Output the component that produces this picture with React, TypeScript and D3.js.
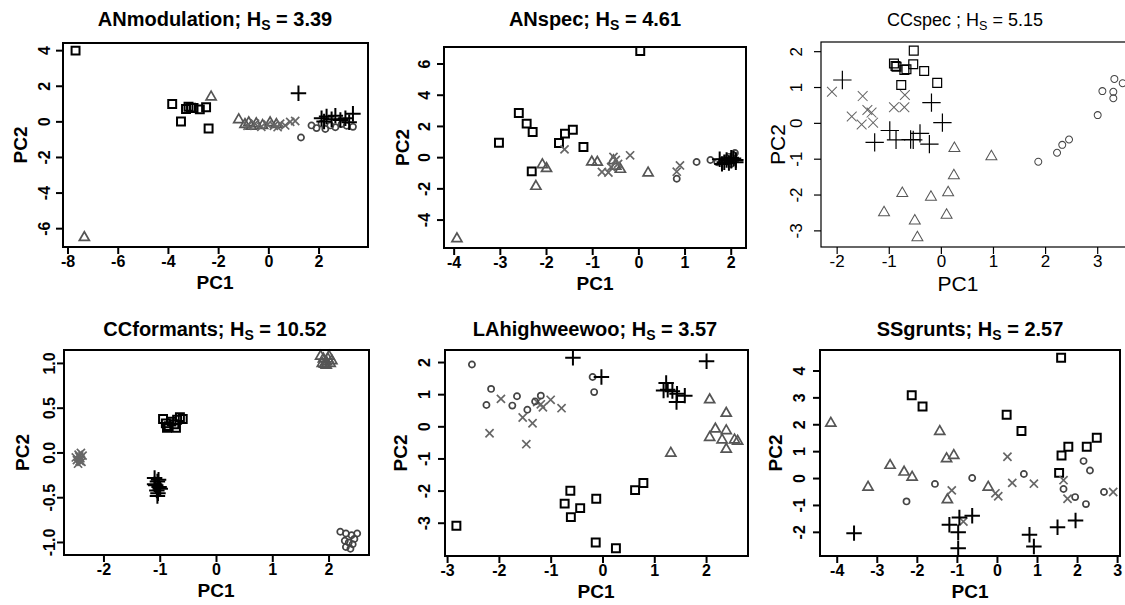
import React from "react";
import * as d3 from "d3";

type Pt = [number, number];

// --- ANmodulation ---
const anmodSquares: Pt[] = [[-7.7, 4.0], [-3.85, 1.0], [-3.5, 0.02], [-3.3, 0.72], [-3.2, 0.85], [-3.1, 0.8], [-3.0, 0.78], [-2.75, 0.7], [-2.5, 0.82], [-2.4, -0.37]];
const anmodTriangles: Pt[] = [[-7.35, -6.5], [-2.3, 1.4], [-1.2, 0.12], [-0.95, -0.15], [-0.7, -0.25], [-0.5, -0.1], [-0.25, -0.2], [0.05, -0.05], [0.3, -0.15], [-0.8, -0.05]];
const anmodTimes: Pt[] = [[-0.85, -0.22], [-0.55, -0.1], [-0.3, -0.28], [-0.05, -0.15], [0.2, -0.22], [0.45, -0.1], [0.65, -0.2], [0.85, 0.0], [1.05, 0.05], [0.35, -0.3]];
const anmodCircles: Pt[] = [[1.28, -0.88], [1.7, -0.2], [1.9, -0.35], [2.1, -0.1], [2.25, -0.4], [2.45, -0.2], [2.65, -0.3], [2.9, -0.12], [3.1, -0.22], [3.35, -0.28]];
const anmodPlus: Pt[] = [[1.18, 1.61], [2.1, 0.2], [2.3, 0.3], [2.5, 0.15], [2.65, 0.35], [2.85, 0.1], [3.05, 0.2], [3.35, 0.45], [2.2, 0.02], [3.2, -0.02]];

// --- ANspec ---
const anspecSquares: Pt[] = [[0.03, 6.83], [-2.6, 2.86], [-2.43, 2.18], [-2.3, 1.64], [-3.03, 0.96], [-2.32, -0.88], [-1.73, 0.94], [-1.6, 1.54], [-1.43, 1.79], [-1.2, 0.68]];
const anspecTriangles: Pt[] = [[-3.94, -5.2], [-2.09, -0.45], [-2.0, -0.7], [-2.23, -1.84], [-1.02, -0.28], [-0.9, -0.3], [-0.5, -0.55], [-0.4, -0.75], [0.2, -0.98], [-0.55, -0.2]];
const anspecTimes: Pt[] = [[-1.61, 0.53], [-0.8, -0.92], [-0.66, -0.95], [-0.55, 0.04], [-0.45, -0.4], [-0.19, 0.15], [0.89, -0.5], [0.82, -0.9], [-0.6, -0.6], [-0.5, -0.15]];
const anspecCircles: Pt[] = [[0.82, -1.35], [1.25, -0.28], [1.55, -0.15], [1.7, -0.3], [1.8, -0.2], [1.9, -0.05], [2.05, 0.15], [2.08, 0.3], [2.0, -0.4], [1.95, 0.05]];
const anspecPlus: Pt[] = [[1.75, -0.1], [1.85, -0.3], [1.9, -0.15], [1.95, -0.35], [2.0, -0.2], [2.05, -0.05], [2.1, -0.3], [1.8, -0.4], [2.0, 0.0], [2.1, -0.15]];

// --- CCspec ---
const ccspecSquares: Pt[] = [[-0.53, 2.03], [-0.91, 1.67], [-0.86, 1.58], [-0.71, 1.49], [-0.67, 1.51], [-0.54, 1.65], [-0.33, 1.46], [-0.77, 1.07], [-0.08, 1.13], [-0.88, 1.6]];
const ccspecPlus: Pt[] = [[-1.9, 1.21], [-0.19, 0.58], [0.02, 0.02], [-0.99, -0.2], [-0.87, -0.46], [-1.28, -0.53], [-0.59, -0.45], [-0.54, -0.46], [-0.41, -0.28], [-0.23, -0.58]];
const ccspecTimes: Pt[] = [[-2.1, 0.88], [-1.51, 0.76], [-1.72, 0.19], [-1.53, -0.03], [-1.42, 0.37], [-1.34, 0.3], [-1.31, 0.02], [-0.91, 0.45], [-0.71, 0.45], [-0.7, 0.79]];
const ccspecTriangles: Pt[] = [[0.25, -0.7], [0.96, -0.93], [0.24, -1.46], [0.13, -1.93], [-0.2, -2.06], [-0.75, -1.95], [-1.1, -2.49], [0.1, -2.56], [-0.51, -2.72], [-0.46, -3.19]];
const ccspecCircles: Pt[] = [[1.86, -1.07], [2.22, -0.82], [2.32, -0.6], [2.45, -0.45], [3.0, 0.23], [3.09, 0.9], [3.32, 1.24], [3.48, 1.12], [3.3, 0.88], [3.3, 0.7]];

// --- CCformants ---
const ccformTimes: Pt[] = [[-2.45, -0.02], [-2.42, -0.06], [-2.48, -0.08], [-2.4, -0.1], [-2.44, -0.04], [-2.5, -0.05], [-2.38, -0.03], [-2.46, -0.12], [-2.41, 0.0], [-2.43, -0.09]];
const ccformSquares: Pt[] = [[-0.95, 0.38], [-0.9, 0.33], [-0.85, 0.3], [-0.8, 0.35], [-0.75, 0.32], [-0.7, 0.37], [-0.65, 0.4], [-0.6, 0.38], [-0.88, 0.28], [-0.72, 0.28]];
const ccformPlus: Pt[] = [[-1.1, -0.28], [-1.05, -0.32], [-1.08, -0.36], [-1.02, -0.38], [-1.06, -0.42], [-1.0, -0.4], [-1.04, -0.45], [-1.1, -0.35], [-1.03, -0.3], [-1.05, -0.48]];
const ccformTriangles: Pt[] = [[1.85, 1.08], [1.9, 1.05], [1.95, 1.02], [2.0, 1.08], [1.92, 0.99], [2.02, 1.0], [1.88, 1.0], [1.98, 1.05], [2.05, 1.03], [1.95, 0.98]];
const ccformCircles: Pt[] = [[2.2, -0.88], [2.3, -0.9], [2.4, -0.92], [2.5, -0.9], [2.28, -0.98], [2.35, -1.0], [2.42, -1.02], [2.3, -1.05], [2.38, -1.07], [2.45, -0.96]];

// --- LAhighweewoo ---
const lahighSquares: Pt[] = [[-2.83, -3.08], [-0.63, -1.99], [-0.74, -2.39], [-0.62, -2.81], [-0.44, -2.53], [-0.13, -2.24], [-0.14, -3.6], [0.25, -3.78], [0.62, -1.97], [0.78, -1.75]];
const lahighPlus: Pt[] = [[-0.58, 2.15], [-0.03, 1.55], [2.0, 2.04], [1.22, 1.36], [1.17, 1.13], [1.34, 1.11], [1.43, 1.03], [1.58, 0.97], [1.42, 0.77], [1.25, 1.15]];
const lahighTimes: Pt[] = [[-2.19, -0.2], [-1.97, 0.87], [-1.55, 0.29], [-1.36, 0.11], [-1.48, -0.54], [-1.27, 0.77], [-1.16, 0.61], [-1.01, 0.84], [-0.8, 0.58], [-1.2, 0.7]];
const lahighCircles: Pt[] = [[-2.53, 1.94], [-2.16, 1.18], [-2.25, 0.68], [-1.66, 0.95], [-1.75, 0.66], [-1.46, 0.53], [-1.2, 0.97], [-0.2, 1.55], [-0.17, 1.08], [-1.31, 0.79]];
const lahighTriangles: Pt[] = [[2.06, 0.84], [2.38, 0.42], [2.06, -0.33], [2.17, -0.07], [2.38, -0.12], [2.3, -0.41], [2.38, -0.7], [2.54, -0.41], [2.6, -0.45], [1.31, -0.82]];

// --- SSgrunts ---
const ssgSquares: Pt[] = [[1.59, 4.49], [-2.14, 3.1], [-1.87, 2.68], [0.23, 2.37], [0.6, 1.77], [2.48, 1.52], [2.23, 1.18], [1.77, 1.18], [1.6, 0.86], [1.54, 0.21]];
const ssgTriangles: Pt[] = [[-4.16, 2.06], [-1.44, 1.75], [-2.68, 0.49], [-2.33, 0.24], [-2.13, 0.05], [-3.23, -0.32], [-1.27, 0.74], [-1.09, 0.86], [-1.25, -0.79], [-0.23, -0.32]];
const ssgTimes: Pt[] = [[0.25, 0.81], [-1.14, -0.44], [0.02, -0.66], [0.37, -0.16], [0.91, -0.19], [1.65, -0.06], [1.75, -0.75], [2.89, -0.5], [-0.85, -1.6], [-0.05, -0.55]];
const ssgCircles: Pt[] = [[-2.27, -0.85], [-1.56, -0.2], [-0.63, 0.02], [0.66, 0.17], [1.65, -0.39], [1.94, -0.69], [2.15, 0.65], [2.31, 0.3], [2.21, -0.95], [2.66, -0.5]];
const ssgPlus: Pt[] = [[-3.58, -2.03], [-1.2, -1.72], [-0.95, -1.45], [-0.63, -1.38], [-0.98, -2.0], [-0.98, -2.59], [0.8, -2.09], [0.91, -2.53], [1.5, -1.81], [1.95, -1.56]];

const panelNames = ["ANmodulation", "ANspec", "CCspec ", "CCformants", "LAhighweewoo", "SSgrunts"];
const hsValues = ["3.39", "4.61", "5.15", "10.52", "3.57", "2.57"];
const xTickValues = [
  [-8, -6, -4, -2, 0, 2],
  [-4, -3, -2, -1, 0, 1, 2],
  [-2, -1, 0, 1, 2, 3],
  [-2, -1, 0, 1, 2],
  [-3, -2, -1, 0, 1, 2],
  [-4, -3, -2, -1, 0, 1, 2, 3],
];
const yTickValues = [
  [-6, -4, -2, 0, 2, 4],
  [-4, -2, 0, 2, 4, 6],
  [-3, -2, -1, 0, 1, 2],
  [-1, -0.5, 0, 0.5, 1],
  [-3, -2, -1, 0, 1, 2],
  [-2, -1, 0, 1, 2, 3, 4],
];
const xLims: Pt[] = [[-8.2, 3.95], [-4.22, 2.32], [-2.31, 3.62], [-2.71, 2.71], [-3.05, 2.8], [-4.43, 3.06]];
const yLims: Pt[] = [[-7.03, 4.43], [-5.79, 7.09], [-3.45, 2.27], [-1.14, 1.15], [-4.02, 2.39], [-2.88, 4.78]];

const panelSeries = [
  { squares: anmodSquares, circles: anmodCircles, triangles: anmodTriangles, plus: anmodPlus, times: anmodTimes },
  { squares: anspecSquares, circles: anspecCircles, triangles: anspecTriangles, plus: anspecPlus, times: anspecTimes },
  { squares: ccspecSquares, circles: ccspecCircles, triangles: ccspecTriangles, plus: ccspecPlus, times: ccspecTimes },
  { squares: ccformSquares, circles: ccformCircles, triangles: ccformTriangles, plus: ccformPlus, times: ccformTimes },
  { squares: lahighSquares, circles: lahighCircles, triangles: lahighTriangles, plus: lahighPlus, times: lahighTimes },
  { squares: ssgSquares, circles: ssgCircles, triangles: ssgTriangles, plus: ssgPlus, times: ssgTimes },
];

// layout (pixels): [left, right, top, bottom]
const boxes = [
  [63, 368, 43, 247],
  [444, 746, 47, 248],
  [821, 1130, 42, 247],
  [64, 369, 350, 555],
  [445, 748, 350, 556],
  [820, 1120, 350, 556],
];
const titleX = [215, 595, 965, 215, 595, 970];
const xTitleX = [215, 595, 958, 216, 596, 970];
const yTickLabelX = [45, 425, 797, 50, 425, 800];
const yTitleX = [20, 402, 778, 22, 400, 775];
const heavy = [true, true, false, true, true, true];

const FONT = "'Liberation Sans', Arial, Helvetica, sans-serif";

const symbolTypes: Record<string, d3.SymbolType> = {
  squares: d3.symbolSquare2,
  circles: d3.symbolCircle,
  triangles: d3.symbolTriangle2,
  plus: d3.symbolPlus,
  times: d3.symbolTimes,
};
const symbolColors: Record<string, string> = {
  squares: "#000",
  circles: "#444",
  triangles: "#555",
  plus: "#000",
  times: "#666",
};
// symbol sizes (d3 area units) for heavy / light panels
const sizeHeavy: Record<string, number> = { squares: 80, circles: 30, triangles: 72, plus: 80, times: 45 };
const sizeLight: Record<string, number> = { squares: 100, circles: 38, triangles: 86, plus: 112, times: 64 };

const fmt = (v: number, i: number) => (i === 3 ? v.toFixed(1) : String(v));

function Panel({ i }: { i: number }) {
  const [l, r, t, b] = boxes[i];
  const x = d3.scaleLinear().domain(xLims[i]).range([l, r]);
  const y = d3.scaleLinear().domain(yLims[i]).range([b, t]);
  const bold = heavy[i];
  const row = i < 3 ? 0 : 1;
  const lw = bold ? 2 : 1.2;
  const weight = bold ? "bold" : "normal";
  const tickFs = bold ? 16 : 17;
  const labFs = bold ? 19 : 21;
  const titleFs = bold ? 20 : 18;
  const titleY = row === 0 ? 26 : 336;
  const xTickY = b + 20;
  const xTitleY = b + (bold ? 42 : 44);
  const cy = (t + b) / 2;
  const series = panelSeries[i] as Record<string, Pt[]>;
  const sizes = bold ? sizeHeavy : sizeLight;

  return (
    <g>
      <text x={titleX[i]} y={titleY} textAnchor="middle" fontFamily={FONT} fontSize={titleFs} fontWeight={weight}>
        {panelNames[i]};{" "}H
        <tspan fontSize={titleFs * 0.7} dy={4}>S</tspan>
        <tspan dy={-4}> = {hsValues[i]}</tspan>
      </text>
      {["squares", "triangles", "times", "circles", "plus"].map((k) =>
        series[k].map((d, j) => (
          <path
            key={k + j}
            d={d3.symbol().type(symbolTypes[k]).size(sizes[k])() || ""}
            transform={`translate(${x(d[0])},${y(d[1])})`}
            fill="none"
            stroke={symbolColors[k]}
            strokeWidth={k === "squares" || k === "plus" ? lw : lw * 0.85}
          />
        ))
      )}
      <rect x={l} y={t} width={r - l} height={b - t} fill="none" stroke="#000" strokeWidth={lw} />
      {xTickValues[i].map((v) => (
        <g key={"xt" + v}>
          <line x1={x(v)} x2={x(v)} y1={b} y2={b + 7} stroke="#000" strokeWidth={lw} />
          <text x={x(v)} y={xTickY} textAnchor="middle" fontFamily={FONT} fontSize={tickFs} fontWeight={weight}>
            {String(v)}
          </text>
        </g>
      ))}
      {yTickValues[i].map((v) => (
        <g key={"yt" + v}>
          <line x1={l - 7} x2={l} y1={y(v)} y2={y(v)} stroke="#000" strokeWidth={lw} />
          <text
            transform={`translate(${yTickLabelX[i] + 5},${y(v)}) rotate(-90)`}
            textAnchor="middle"
            fontFamily={FONT}
            fontSize={tickFs}
            fontWeight={weight}
          >
            {fmt(v, i)}
          </text>
        </g>
      ))}
      <text x={xTitleX[i]} y={xTitleY} textAnchor="middle" fontFamily={FONT} fontSize={labFs} fontWeight={weight}>
        PC1
      </text>
      <text
        transform={`translate(${yTitleX[i] + 7},${cy}) rotate(-90)`}
        textAnchor="middle"
        fontFamily={FONT}
        fontSize={labFs}
        fontWeight={weight}
      >
        PC2
      </text>
    </g>
  );
}

export default function App() {
  return (
    <svg width={1125} height={605} style={{ position: "absolute", left: 0, top: 0, background: "#fff" }}>
      <rect width={1125} height={605} fill="#fff" />
      {panelNames.map((_, i) => (
        <Panel key={i} i={i} />
      ))}
    </svg>
  );
}
